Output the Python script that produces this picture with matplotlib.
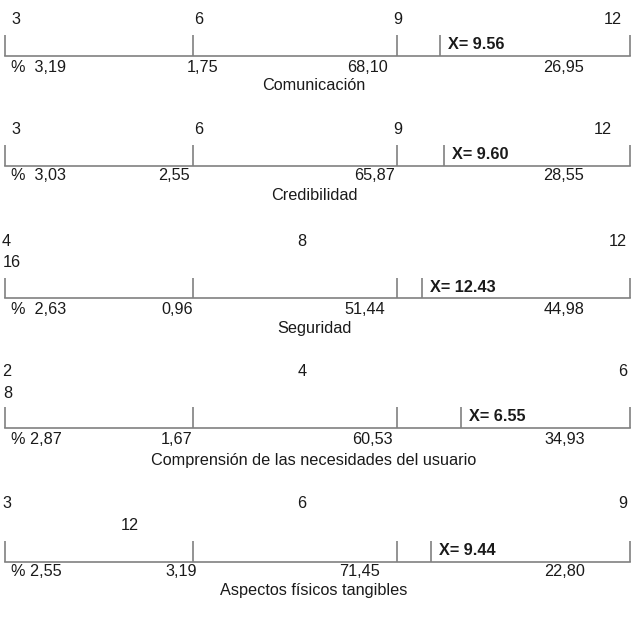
import matplotlib
matplotlib.use('Agg')
import matplotlib.pyplot as plt
import numpy as np

plt.rcParams['font.family'] = ['Liberation Sans', 'DejaVu Sans']
plt.rcParams['font.size'] = 11.7

# Data
dimensions = ['Comunicación', 'Credibilidad', 'Seguridad',
              'Comprensión de las necesidades del usuario',
              'Aspectos físicos tangibles']
scale_ticks = [[3, 6, 9, 12], [3, 6, 9, 12], [4, 8, 12, 16],
               [2, 4, 6, 8], [3, 6, 9, 12]]
percentages = [[3.19, 1.75, 68.10, 26.95],
               [3.03, 2.55, 65.87, 28.55],
               [2.63, 0.96, 51.44, 44.98],
               [2.87, 1.67, 60.53, 34.93],
               [2.55, 3.19, 71.45, 22.80]]
means = [9.56, 9.60, 12.43, 6.55, 9.44]

# Layout (pixels, y measured from top)
W, H = 636, 624
LINE_COLOR = '#808080'
TEXT_COLOR = '#1a1a1a'
BAR_LEFT, BAR_RIGHT = 5, 630
SEG_FRAC = [0.0, 0.3008, 0.6272, 1.0]
label_y = [(20, None), (130, None), (241, 262), (371, 393), (503, 526)]
wrap_x = [None, None, (3, 'left'), (3, 'left'), (130, 'center')]
tick_top = [35, 145, 278, 407, 541]
line_y = [56, 166, 298, 428, 562]
pct_y = [67, 176, 309, 440, 571]
title_y = [86, 196, 329, 461, 591]
pct_prefix = ['%  ', '%  ', '%  ', '% ', '% ']
pct_right = [[None, 218, 388, 584], [None, 190, 395, 584],
             [None, 193, 385, 585], [None, 193, 393, 585],
             [None, 197, 380, 585]]

fig = plt.figure(figsize=(W / 100, H / 100), dpi=100)


def ftext(x, y, s, ha='left', **kw):
    fig.text(x / W, 1 - y / H, s, ha=ha, va='center', color=TEXT_COLOR, **kw)


def fmt(v):
    return f'{v:.2f}'.replace('.', ',')


for i, name in enumerate(dimensions):
    ticks = scale_ticks[i]

    # bar axes with a piecewise scale through the segment boundaries
    ax = fig.add_axes([BAR_LEFT / W, 1 - line_y[i] / H,
                       (BAR_RIGHT - BAR_LEFT) / W,
                       (line_y[i] - tick_top[i]) / H])
    fwd = lambda v, t=ticks: np.interp(v, t, SEG_FRAC)
    inv = lambda f, t=ticks: np.interp(f, SEG_FRAC, t)
    ax.set_xscale('function', functions=(fwd, inv))
    ax.set_xlim(ticks[0], ticks[-1])
    ax.set_ylim(0, 1)
    ax.axis('off')
    ax.vlines(ticks, 0, 1, color=LINE_COLOR, lw=1.2, clip_on=False)
    ax.axhline(0, color=LINE_COLOR, lw=1.2, clip_on=False)
    ax.vlines([means[i]], 0, 1, color=LINE_COLOR, lw=1.2, clip_on=False)
    ax.annotate(f'X= {means[i]:.2f}', xy=(means[i], 0.55),
                xytext=(8, 0), textcoords='offset pixels',
                ha='left', va='center', fontweight='bold',
                color=TEXT_COLOR)

    # scale labels above the bar
    y1, y2 = label_y[i]
    if y2 is None:
        ftext(16, y1, str(ticks[0]), ha='center')
        ftext(199, y1, str(ticks[1]), ha='center')
        ftext(398, y1, str(ticks[2]), ha='center')
        ftext(622 if i == 0 else 612, y1, str(ticks[3]), ha='right')
    else:
        ftext(2, y1, str(ticks[0]), ha='left')
        ftext(302, y1, str(ticks[1]), ha='center')
        ftext(627, y1, str(ticks[2]), ha='right')
        wx, wha = wrap_x[i]
        ftext(wx, y2, str(ticks[3]), ha=wha)

    # percentages below the bar
    p = percentages[i]
    ftext(11, pct_y[i], pct_prefix[i] + fmt(p[0]), ha='left')
    for k in range(1, 4):
        ftext(pct_right[i][k], pct_y[i], fmt(p[k]), ha='right')

    ftext(314, title_y[i], name, ha='center')

fig.savefig('out.png', dpi=100)
